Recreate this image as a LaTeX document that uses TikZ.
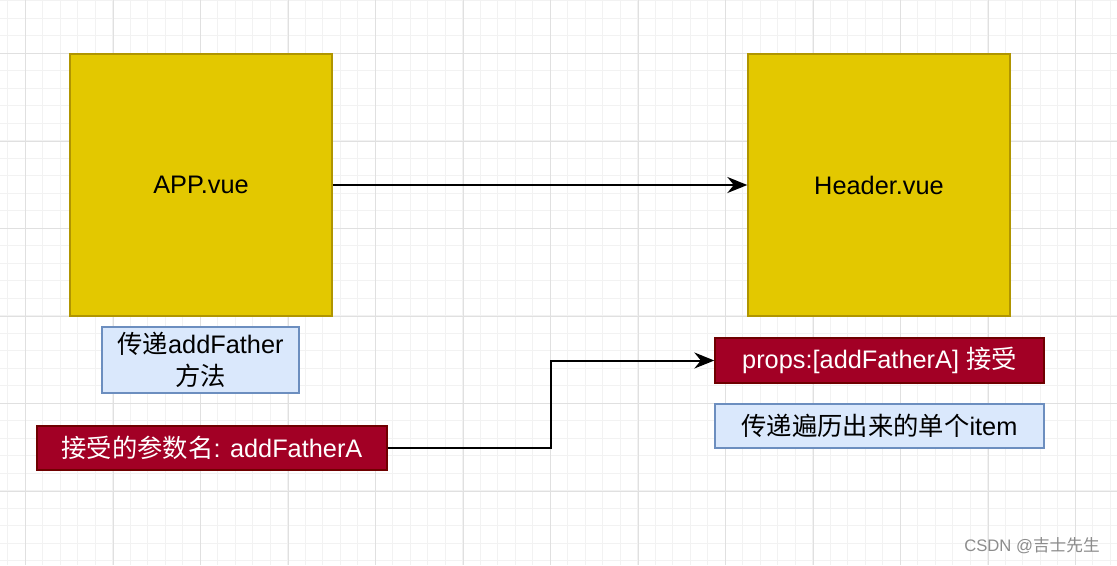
\documentclass[tikz,border=0pt]{standalone}
\usepackage{fontspec}
\setmainfont{Liberation Sans}
\newfontfamily\cjk{Noto Sans CJK SC}
\usepackage{tikz}
\usetikzlibrary{arrows.meta}
\definecolor{vuefill}{HTML}{E3C800}
\definecolor{vueline}{HTML}{B09500}
\definecolor{notefill}{HTML}{DAE8FC}
\definecolor{noteline}{HTML}{6C8EBF}
\definecolor{propfill}{HTML}{A20025}
\definecolor{propline}{HTML}{6F0000}
\tikzset{
  compblock/.style={draw=vueline, fill=vuefill, line width=1pt, minimum width=196.5pt, minimum height=196.5pt, font=\fontsize{19}{23}\selectfont},
  noteblock/.style={draw=noteline, fill=notefill, line width=1pt, align=center, font=\fontsize{19}{23.5}\selectfont},
  propblock/.style={draw=propline, fill=propfill, line width=1pt, text=white, font=\fontsize{19}{23}\selectfont},
  passwire/.style={line width=1.5pt, -{Stealth[length=15pt,width=12pt]}},
  minorline/.style={draw=black!5, line width=0.6pt},
  majorline/.style={draw=black!12, line width=0.7pt}
}

\begin{document}
\begin{tikzpicture}[x=0.75pt, y=-0.75pt]
    \useasboundingbox (0,0) rectangle (1117,565);
    \fill[white] (0,0) rectangle (1117,565);
    % grid
    \foreach \i in {0,...,63} \draw[minorline] ({7.5+17.5*\i},0) -- ++(0,565);
    \foreach \i in {0,...,32} \draw[minorline] (0,{0.5+17.5*\i}) -- ++(1117,0);
    \foreach \i in {0,...,12} \draw[majorline] ({25.5+87.5*\i},0) -- ++(0,565);
    \foreach \i in {0,...,6} \draw[majorline] (0,{53.5+87.5*\i}) -- ++(1117,0);

    \node[compblock] (app) at (201,185) {APP.vue} ;
    \node[compblock] (header) at (879,185) {Header.vue} ;

    \node[noteblock, minimum width=147.75pt, minimum height=49.5pt, inner sep=0pt] (pass) at (200.5,360) {{\cjk 传递}addFather\\{\cjk 方法}} ;
    \node[propblock, minimum width=262.5pt, minimum height=33pt] (param) at (212,448) {{\cjk 接受的参数名}: addFatherA} ;
    \node[propblock, minimum width=246.75pt, minimum height=33.75pt] (props) at (879.5,360.5) {props:[addFatherA] {\cjk 接受}} ;
    \node[noteblock, minimum width=246.75pt, minimum height=33pt] (item) at (879.5,426) {{\cjk 传递遍历出来的单个}item} ;

    \draw[passwire] (app.east) -- (header.west);
    \draw[passwire] (param.east) -- (551,448) |- (props.west);

    \node[text=black!45, font=\fontsize{12.5}{14}\selectfont] (mark) at (1032,546) {CSDN @{\cjk 吉士先生}} ;
\end{tikzpicture}
\end{document}
